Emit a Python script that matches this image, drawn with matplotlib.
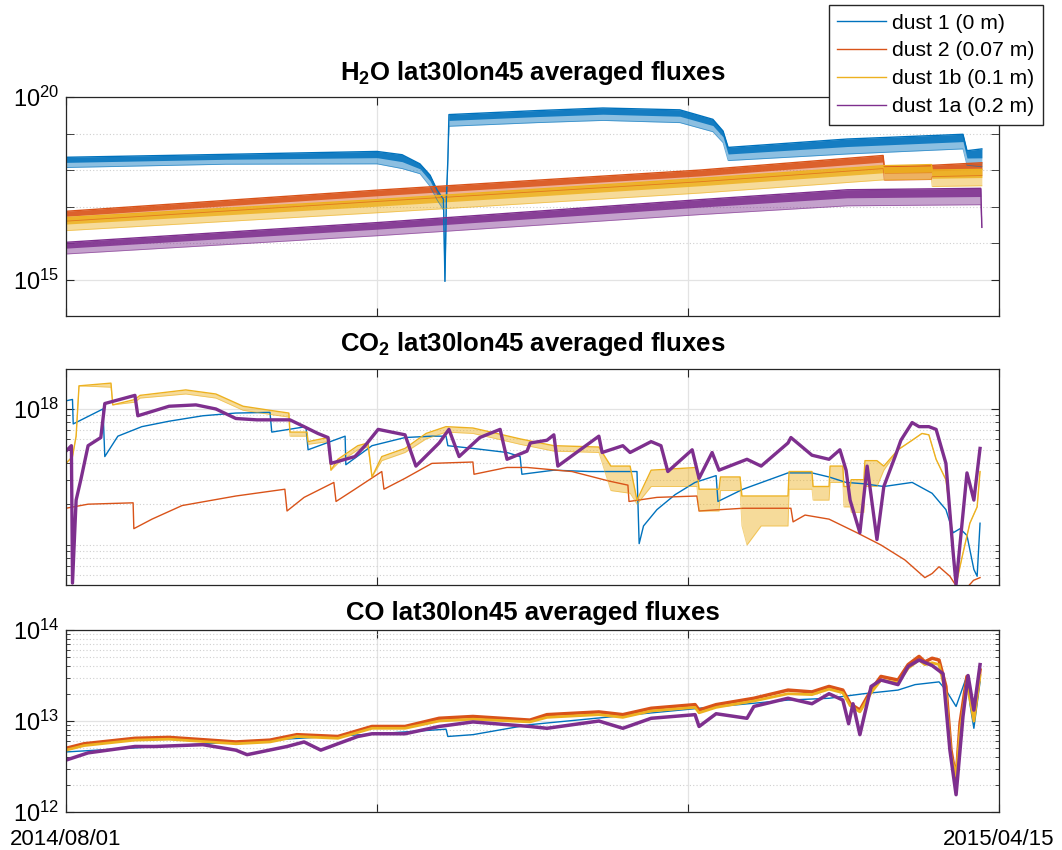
import numpy as np
import pandas as pd
import matplotlib
matplotlib.use('Agg')
import matplotlib.pyplot as plt
from matplotlib.lines import Line2D
from matplotlib.ticker import FixedLocator, NullFormatter, FuncFormatter

plt.rcParams['font.family'] = ['Liberation Sans', 'DejaVu Sans']
plt.rcParams['mathtext.fontset'] = 'custom'
plt.rcParams['mathtext.rm'] = 'Liberation Sans'
plt.rcParams['mathtext.it'] = 'Liberation Sans:italic'
plt.rcParams['mathtext.bf'] = 'Liberation Sans:bold'

# time axis: days since 2014/08/01
t0 = pd.Timestamp('2014-08-01')
t1 = pd.Timestamp('2015-04-15')

names = ['dust 1 (0 m)', 'dust 2 (0.07 m)', 'dust 1b (0.1 m)', 'dust 1a (0.2 m)']
colors = ['#0072BD', '#D95319', '#EDB120', '#7E2F8E']

# ---- H2O fluxes, log10, upper / lower edge of the diurnal band
h2o_d1_days = [0, 44, 85.7, 92.6, 97.5, 100.3, 102.2, 104.0, 104.4, 104.8, 105.2, 105.5,
               129.8, 147.9, 169.1, 178.2, 181.0, 182.4, 215.2, 247.1, 248.2, 252.3]
h2o_d1_hi = [18.35, 18.43, 18.51, 18.42, 18.17, 17.86, 17.46, 17.20, 14.95, 17.30, 18.26, 19.52,
             19.63, 19.70, 19.65, 19.39, 19.07, 18.62, 18.85, 18.98, 18.53, 18.58]
h2o_d1_lo = [18.07, 18.16, 18.17, 18.04, 17.90, 17.55, 17.19, 16.90, 14.95, 17.00, 18.26, 19.20,
             19.30, 19.36, 19.30, 19.05, 18.75, 18.26, 18.44, 18.58, 18.13, 18.09]

h2o_d2_days = [0, 85.7, 174.7, 225.1, 225.4, 238.4, 238.6, 252.3]
h2o_d2_hi = [16.87, 17.45, 18.00, 18.40, 18.10, 18.12, 18.13, 18.20]
h2o_d2_lo = [16.60, 17.14, 17.68, 18.04, 17.72, 17.74, 17.82, 17.85]

h2o_d1b_days = [0, 85.7, 174.7, 225.1, 238.4, 238.6, 252.3]
h2o_d1b_hi = [16.70, 17.19, 17.77, 18.12, 18.15, 18.00, 18.02]
h2o_d1b_lo = [16.34, 16.83, 17.37, 17.73, 17.75, 17.55, 17.57]

h2o_d1a_days = [0, 85.7, 174.7, 215.2, 252.0, 252.3]
h2o_d1a_hi = [16.02, 16.56, 17.19, 17.46, 17.50, 16.43]
h2o_d1a_lo = [15.70, 16.20, 16.78, 17.02, 17.05, 16.43]

# ---- CO2 fluxes, log10
co2_d1_days = [0, 1.8, 2.0, 10.2, 10.7, 14.3, 20.9, 28.4, 37.7, 46.8, 56.2, 56.7, 66.1, 66.7,
               76.9, 77.1, 84.3, 93.4, 100.8, 104.7, 105.2, 112.1, 121.5, 125.1, 125.6, 134.4,
               144.1, 157.3, 157.9, 159.1, 162.8, 167.8, 173.3, 179.1, 179.6, 186.5, 198.9,
               205.5, 210.2, 214.9, 219.8, 225.3, 233.1, 238.6, 242.4, 244.4, 246.3, 248.2,
               250.1, 251.0, 251.8]
co2_d1 = [18.06, 18.07, 17.89, 18.00, 17.65, 17.80, 17.87, 17.91, 17.95, 17.97, 17.975, 17.83,
          17.87, 17.70, 17.80, 17.59, 17.73, 17.79, 17.80, 17.80, 17.73, 17.71, 17.68, 17.65,
          17.52, 17.55, 17.54, 17.54, 17.01, 17.14, 17.26, 17.37, 17.46, 17.51, 17.32, 17.41,
          17.53, 17.53, 17.50, 17.46, 17.45, 17.43, 17.46, 17.38, 17.26, 17.09, 17.12, 17.07,
          16.82, 16.77, 17.16]

co2_d2_days = [0, 6.1, 18.5, 18.7, 23.7, 32.0, 46.8, 60.3, 60.9, 65.6, 73.8, 74.4, 79.6, 87.0,
               87.6, 93.4, 100.8, 112.1, 112.4, 121.5, 127.0, 139.4, 149.6, 154.8, 155.1, 162.8,
               173.8, 174.4, 186.5, 199.7, 200.3, 203.6, 210.2, 217.9, 224.5, 231.1, 236.6,
               238.6, 240.5, 243.5, 245.2, 248.0, 250.0, 251.8]
co2_d2 = [17.27, 17.30, 17.31, 17.12, 17.19, 17.29, 17.36, 17.41, 17.25, 17.35, 17.46, 17.32,
          17.41, 17.54, 17.41, 17.49, 17.60, 17.61, 17.52, 17.57, 17.57, 17.54, 17.47, 17.44,
          17.32, 17.35, 17.36, 17.25, 17.27, 17.27, 17.17, 17.22, 17.19, 17.09, 17.00, 16.89,
          16.76, 16.79, 16.84, 16.77, 16.70, 16.68, 16.74, 16.76]

co2_d1b_days = [0, 1.8, 2.8, 3.6, 12.4, 12.9, 19.0, 20.4, 33.0, 41.3, 48.8, 56.2, 61.4, 61.7,
                66.4, 66.7, 72.2, 73.0, 74.9, 80.4, 83.2, 84.3, 87.0, 93.4, 99.2, 104.7, 112.1,
                118.7, 125.1, 134.4, 146.8, 150.1, 155.4, 157.3, 161.2, 173.8, 174.4, 179.9,
                180.3, 185.7, 186.2, 187.6, 191.5, 198.9, 199.2, 205.5, 205.8, 210.2, 210.5,
                214.0, 214.3, 216.0, 216.3, 219.8, 220.1, 223.4, 225.3, 229.2, 233.1, 235.8,
                237.7, 239.7, 242.4, 243.8, 245.2, 247.1, 249.0, 251.0, 251.8]
co2_d1b_hi = [17.60, 17.65, 17.80, 18.17, 18.19, 18.03, 18.07, 18.10, 18.14, 18.11, 18.02, 17.99,
              17.97, 17.83, 17.83, 17.76, 17.79, 17.55, 17.63, 17.73, 17.75, 17.50, 17.65, 17.71,
              17.82, 17.87, 17.86, 17.82, 17.78, 17.73, 17.72, 17.58, 17.58, 17.33, 17.55, 17.57,
              17.41, 17.41, 17.50, 17.50, 17.36, 17.36, 17.36, 17.36, 17.54, 17.54, 17.43, 17.43,
              17.58, 17.58, 17.43, 17.43, 17.48, 17.48, 17.62, 17.62, 17.58, 17.70, 17.77, 17.82,
              17.81, 17.63, 17.48, 17.19, 16.71, 16.94, 17.16, 17.28, 17.54]
co2_d1b_lo = [17.60, 17.65, 17.80, 18.17, 18.16, 18.03, 18.05, 18.08, 18.11, 18.08, 17.99, 17.96,
              17.94, 17.80, 17.80, 17.74, 17.76, 17.55, 17.60, 17.70, 17.72, 17.50, 17.62, 17.68,
              17.78, 17.83, 17.82, 17.78, 17.74, 17.69, 17.68, 17.40, 17.38, 17.30, 17.43, 17.43,
              17.25, 17.25, 17.40, 17.40, 17.14, 17.00, 17.14, 17.14, 17.41, 17.41, 17.33, 17.33,
              17.46, 17.46, 17.28, 17.28, 17.24, 17.24, 17.43, 17.43, 17.55, 17.70, 17.77, 17.82,
              17.81, 17.63, 17.48, 17.19, 16.71, 16.94, 17.16, 17.28, 17.54]

co2_d1a_days = [0, 1.5, 1.8, 2.8, 4.1, 6.1, 9.6, 10.7, 19.0, 19.8, 28.4, 35.8, 41.3, 46.8, 52.6,
                61.7, 65.6, 69.4, 72.2, 73.0, 79.6, 82.4, 86.0, 93.4, 96.4, 102.8, 105.5, 108.3,
                114.0, 119.6, 121.5, 127.0, 127.9, 132.5, 134.4, 135.5, 146.8, 147.7, 153.4,
                155.4, 161.2, 163.9, 165.8, 172.5, 174.4, 178.0, 179.9, 187.6, 191.5, 198.9,
                199.7, 205.5, 210.2, 213.2, 214.9, 216.0, 218.7, 220.7, 223.4, 225.3, 228.4,
                230.0, 233.1, 235.0, 237.7, 239.7, 242.4, 244.4, 245.2, 248.2, 250.1, 251.8]
co2_d1a = [17.69, 17.73, 16.72, 17.33, 17.48, 17.73, 17.79, 18.04, 18.10, 17.95, 18.02, 18.03,
           18.00, 17.93, 17.92, 17.92, 17.87, 17.82, 17.79, 17.60, 17.65, 17.73, 17.85, 17.81,
           17.58, 17.75, 17.85, 17.65, 17.79, 17.85, 17.63, 17.69, 17.75, 17.77, 17.81, 17.58,
           17.80, 17.68, 17.73, 17.68, 17.76, 17.73, 17.54, 17.70, 17.49, 17.68, 17.55, 17.63,
           17.58, 17.75, 17.79, 17.66, 17.63, 17.70, 17.55, 17.33, 17.09, 17.58, 17.04, 17.43,
           17.65, 17.77, 17.90, 17.87, 17.87, 17.85, 17.60, 16.94, 16.71, 17.53, 17.33, 17.71]

# ---- CO fluxes, log10
co_d1_days = [0, 85.7, 104.7, 105.2, 112.1, 127.8, 174.4, 198.9, 210.2, 219.8, 229.2, 233.9,
              240.5, 242.4, 245.2, 248.2, 249.0, 250.1, 251.8]
co_d1 = [12.66, 12.86, 12.91, 12.83, 12.85, 12.96, 13.14, 13.23, 13.25, 13.30, 13.34, 13.40,
         13.43, 13.34, 13.16, 13.50, 13.19, 12.92, 13.43]

co_d2_days = [0, 5.0, 19.0, 28.4, 46.8, 56.2, 63.6, 74.9, 84.3, 93.4, 102.8, 112.1, 127.8, 132.5,
              146.8, 153.4, 161.2, 173.3, 174.4, 179.1, 189.5, 198.9, 205.5, 210.2, 214.0, 216.0,
              218.7, 221.8, 224.5, 229.2, 232.0, 235.0, 236.6, 238.6, 240.5, 242.4, 243.8, 245.2,
              246.3, 248.2, 250.1, 251.8]
co_d2 = [12.70, 12.75, 12.81, 12.82, 12.77, 12.79, 12.85, 12.83, 12.94, 12.94, 13.03, 13.05,
         13.01, 13.07, 13.10, 13.07, 13.14, 13.18, 13.12, 13.18, 13.25, 13.34, 13.32, 13.38,
         13.34, 13.19, 13.12, 13.34, 13.49, 13.45, 13.62, 13.71, 13.65, 13.69, 13.67, 13.38,
         12.68, 12.35, 12.98, 13.49, 13.05, 13.56]

co_d1b_days = co_d2_days
co_d1b = [12.68, 12.73, 12.79, 12.80, 12.75, 12.77, 12.83, 12.81, 12.92, 12.92, 13.00, 13.02,
          12.99, 13.04, 13.07, 13.04, 13.11, 13.15, 13.09, 13.15, 13.22, 13.30, 13.29, 13.35,
          13.31, 13.17, 13.10, 13.31, 13.45, 13.42, 13.58, 13.67, 13.62, 13.64, 13.62, 13.30,
          12.62, 12.40, 12.90, 13.42, 13.00, 13.50]

co_d1a_days = [0, 6.1, 19.0, 24.5, 37.7, 46.8, 49.9, 60.9, 65.6, 70.2, 74.9, 80.4, 84.3, 93.4,
               102.8, 112.1, 121.5, 127.8, 132.5, 146.8, 153.4, 161.2, 173.3, 174.4, 179.1, 187.6,
               189.5, 198.9, 205.5, 210.2, 214.0, 215.6, 216.8, 218.7, 221.8, 224.5, 229.2, 232.0,
               235.0, 238.6, 241.6, 243.5, 245.2, 247.1, 248.5, 250.1, 251.8]
co_d1a = [12.57, 12.65, 12.72, 12.72, 12.74, 12.68, 12.63, 12.72, 12.77, 12.68, 12.75, 12.83,
          12.86, 12.86, 12.94, 12.99, 12.96, 12.94, 12.92, 13.00, 12.92, 13.03, 13.07, 12.94,
          13.08, 13.03, 13.16, 13.25, 13.19, 13.30, 13.23, 12.97, 13.19, 12.85, 13.38, 13.45,
          13.40, 13.60, 13.67, 13.61, 13.52, 12.68, 12.19, 13.05, 13.50, 13.12, 13.62]


def to_dates(days):
    return t0 + pd.to_timedelta(np.asarray(days, dtype=float), unit='D')


def band(ax, days, hi, lo, color, strong=True):
    d = to_dates(days)
    hi = np.asarray(hi)
    lo = np.asarray(lo)
    ax.fill_between(d, 10.0 ** lo, 10.0 ** hi, color=color, alpha=0.45, lw=0)
    if strong:
        mid = 0.5 * (hi + lo)
        ax.fill_between(d, 10.0 ** mid, 10.0 ** hi, color=color, alpha=0.85, lw=0)
    ax.plot(d, 10.0 ** hi, color=color, lw=1.0)
    ax.plot(d, 10.0 ** lo, color=color, lw=0.6, alpha=0.6)


def line(ax, days, vals, color, lw=1.0):
    ax.plot(to_dates(days), 10.0 ** np.asarray(vals), color=color, lw=lw)


span = t1 - t0
xticks = [t0, t0 + span / 3, t0 + 2 * span / 3, t1]


def style(ax, title, ylim, major, minor, minor_len=3, pad=9):
    ax.set_yscale('log')
    ax.set_xlim(t0, t1)
    ax.set_ylim(*ylim)
    ax.yaxis.set_major_locator(FixedLocator(major))
    ax.yaxis.set_minor_locator(FixedLocator(minor))
    ax.yaxis.set_major_formatter(FuncFormatter(lambda v, p: r'$10^{%d}$' % round(np.log10(v))))
    ax.yaxis.set_minor_formatter(NullFormatter())
    ax.set_xticks(xticks)
    ax.set_xticklabels([])
    ax.grid(True, which='major', color='#e3e3e3', lw=0.9)
    ax.grid(True, which='minor', axis='y', color='#cfcfcf', ls=(0, (1, 2)), lw=0.8)
    ax.set_axisbelow(True)
    ax.tick_params(which='both', direction='in', top=True, right=True, color='#262626',
                   labelsize=17, pad=5)
    ax.tick_params(which='major', length=6, width=0.8)
    ax.tick_params(which='minor', length=minor_len, width=0.6)
    for s in ax.spines.values():
        s.set_color('#262626')
        s.set_linewidth(0.9)
    ax.set_title(title, fontsize=18.5, fontweight='bold', pad=pad)


fig = plt.figure(figsize=(10.62, 8.5), dpi=100)
ax1 = fig.add_axes([0.0621, 0.6282, 0.8785, 0.2576])
ax2 = fig.add_axes([0.0621, 0.3118, 0.8785, 0.2541])
ax3 = fig.add_axes([0.0621, 0.0447, 0.8785, 0.2141])

# H2O
band(ax1, h2o_d1_days, h2o_d1_hi, h2o_d1_lo, colors[0])
band(ax1, h2o_d2_days, h2o_d2_hi, h2o_d2_lo, colors[1])
band(ax1, h2o_d1b_days, h2o_d1b_hi, h2o_d1b_lo, colors[2])
band(ax1, h2o_d1a_days, h2o_d1a_hi, h2o_d1a_lo, colors[3])
style(ax1, r'H$_{\mathbf{2}}$O lat30lon45 averaged fluxes', (1e14, 1e20),
      [1e15, 1e20], [1e14, 1e16, 1e17, 1e18, 1e19], minor_len=6, pad=12)

# CO2
line(ax2, co2_d1_days, co2_d1, colors[0])
line(ax2, co2_d2_days, co2_d2, colors[1])
band(ax2, co2_d1b_days, co2_d1b_hi, co2_d1b_lo, colors[2], strong=False)
line(ax2, co2_d1a_days, co2_d1a, colors[3], lw=2.4)
co2_minor = [k * 10.0 ** e for e in (16, 17) for k in range(1, 10)]
style(ax2, r'CO$_{\mathbf{2}}$ lat30lon45 averaged fluxes', (10 ** 16.706, 10 ** 18.294),
      [1e18], co2_minor, pad=13)

# CO
line(ax3, co_d1_days, co_d1, colors[0])
line(ax3, co_d2_days, co_d2, colors[1], lw=2.5)
line(ax3, co_d1b_days, co_d1b, colors[2], lw=2.0)
line(ax3, co_d1a_days, co_d1a, colors[3], lw=2.5)
co_minor = [k * 10.0 ** e for e in (12, 13) for k in range(2, 10)]
style(ax3, 'CO lat30lon45 averaged fluxes', (1e12, 1e14), [1e12, 1e13, 1e14], co_minor, pad=7)
ax3.set_xticklabels(['2014/08/01', '', '', '2015/04/15'])
ax3.tick_params(axis='x', labelsize=16, pad=12)

handles = [Line2D([], [], color=c, lw=1.0) for c in colors]
leg = fig.legend(handles, names, loc='upper right', bbox_to_anchor=(0.982, 0.994),
                 fontsize=15.2, frameon=True, fancybox=False, framealpha=1,
                 edgecolor='#262626', borderaxespad=0, handlelength=2.3,
                 handletextpad=0.3, labelspacing=0.42, borderpad=0.4)
leg.get_frame().set_linewidth(1.0)

fig.savefig('out.png', dpi=100)
